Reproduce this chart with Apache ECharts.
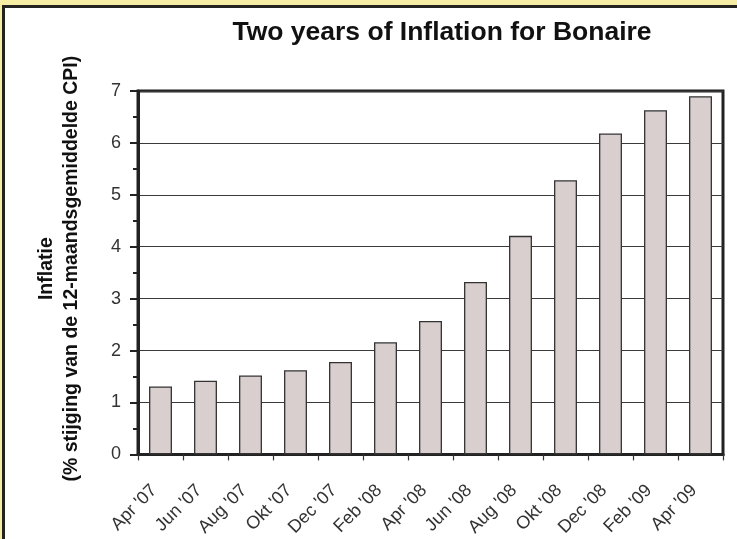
<!DOCTYPE html>
<html>
<head>
<meta charset="utf-8">
<script src="https://cdn.jsdelivr.net/npm/echarts@6/dist/echarts.min.js"></script>
<style>
html,body{margin:0;padding:0;background:#fff;}
#chart{width:737px;height:539px;}
</style>
</head>
<body>
<div id="chart"></div>
<script>
const categories = ["Apr '07","Jun '07","Aug '07","Okt '07","Dec '07","Feb '08","Apr '08","Jun '08","Aug '08","Okt '08","Dec '08","Feb '09","Apr '09"];
const inflation = [1.31,1.42,1.52,1.62,1.78,2.16,2.57,3.32,4.21,5.28,6.18,6.63,6.90];
const titleText = "Two years of Inflation for Bonaire";
const yNameLines = ["Inflatie", "(% stijging van de 12-maandsgemiddelde CPI)"];

const FONT = "'Liberation Sans', Arial, sans-serif";
const chart = echarts.init(document.getElementById('chart'));
chart.setOption({
  animation: false,
  backgroundColor: '#ffffff',
  graphic: [
    {type:'rect', shape:{x:0,y:0,width:737,height:6}, style:{fill:'#f6eca4'}, z:0},
    {type:'rect', shape:{x:0,y:0,width:2,height:539}, style:{fill:'#f6eca4'}, z:0},
    {type:'line', shape:{x1:2,y1:6.5,x2:737,y2:6.5}, style:{stroke:'#222',lineWidth:3}, z:1},
    {type:'line', shape:{x1:3.5,y1:5,x2:3.5,y2:539}, style:{stroke:'#222',lineWidth:3}, z:1},
    {type:'text', x:442, y:33, style:{text:titleText, font:"bold 26.5px " + FONT, fill:'#111', textAlign:'center', textVerticalAlign:'middle'}, z:5}
  ],
  grid: {left:138, right:14, top:91, bottom:83, show:true, borderColor:'#222', borderWidth:3, backgroundColor:'transparent'},
  xAxis: {
    type:'category',
    data: categories,
    boundaryGap: true,
    axisLine: {show:true, lineStyle:{color:'#222', width:3}},
    axisTick: {show:true, alignWithLabel:false, interval:0, length:6, lineStyle:{color:'#333', width:1.2}},
    axisLabel: {interval:0, rotate:45, fontSize:18, color:'#333', fontFamily:FONT, margin:27, padding:[0,9,0,0]},
    splitLine: {show:false}
  },
  yAxis: {
    type:'value',
    min:0, max:7, interval:1,
    name: yNameLines.join('\n'),
    nameLocation:'middle',
    nameRotate:90,
    nameGap:54,
    nameTextStyle:{fontSize:19.5, fontWeight:'bold', color:'#111', fontFamily:FONT, lineHeight:25, padding:[0,0,0,8]},
    axisLine:{show:true, lineStyle:{color:'#222', width:3}},
    axisTick:{show:true, length:8, lineStyle:{color:'#222', width:2}},
    minorTick:{show:true, splitNumber:2, length:5, lineStyle:{color:'#222', width:2}},
    axisLabel:{fontSize:18, color:'#333', fontFamily:FONT, margin:17},
    splitLine:{show:true, lineStyle:{color:'#3a3a3a', width:1.2}}
  },
  series: [{
    type:'bar',
    data: inflation,
    barCategoryGap:'49%',
    itemStyle:{color:'#d8cfce', borderColor:'#333', borderWidth:1.3}
  }]
});
</script>
</body>
</html>
